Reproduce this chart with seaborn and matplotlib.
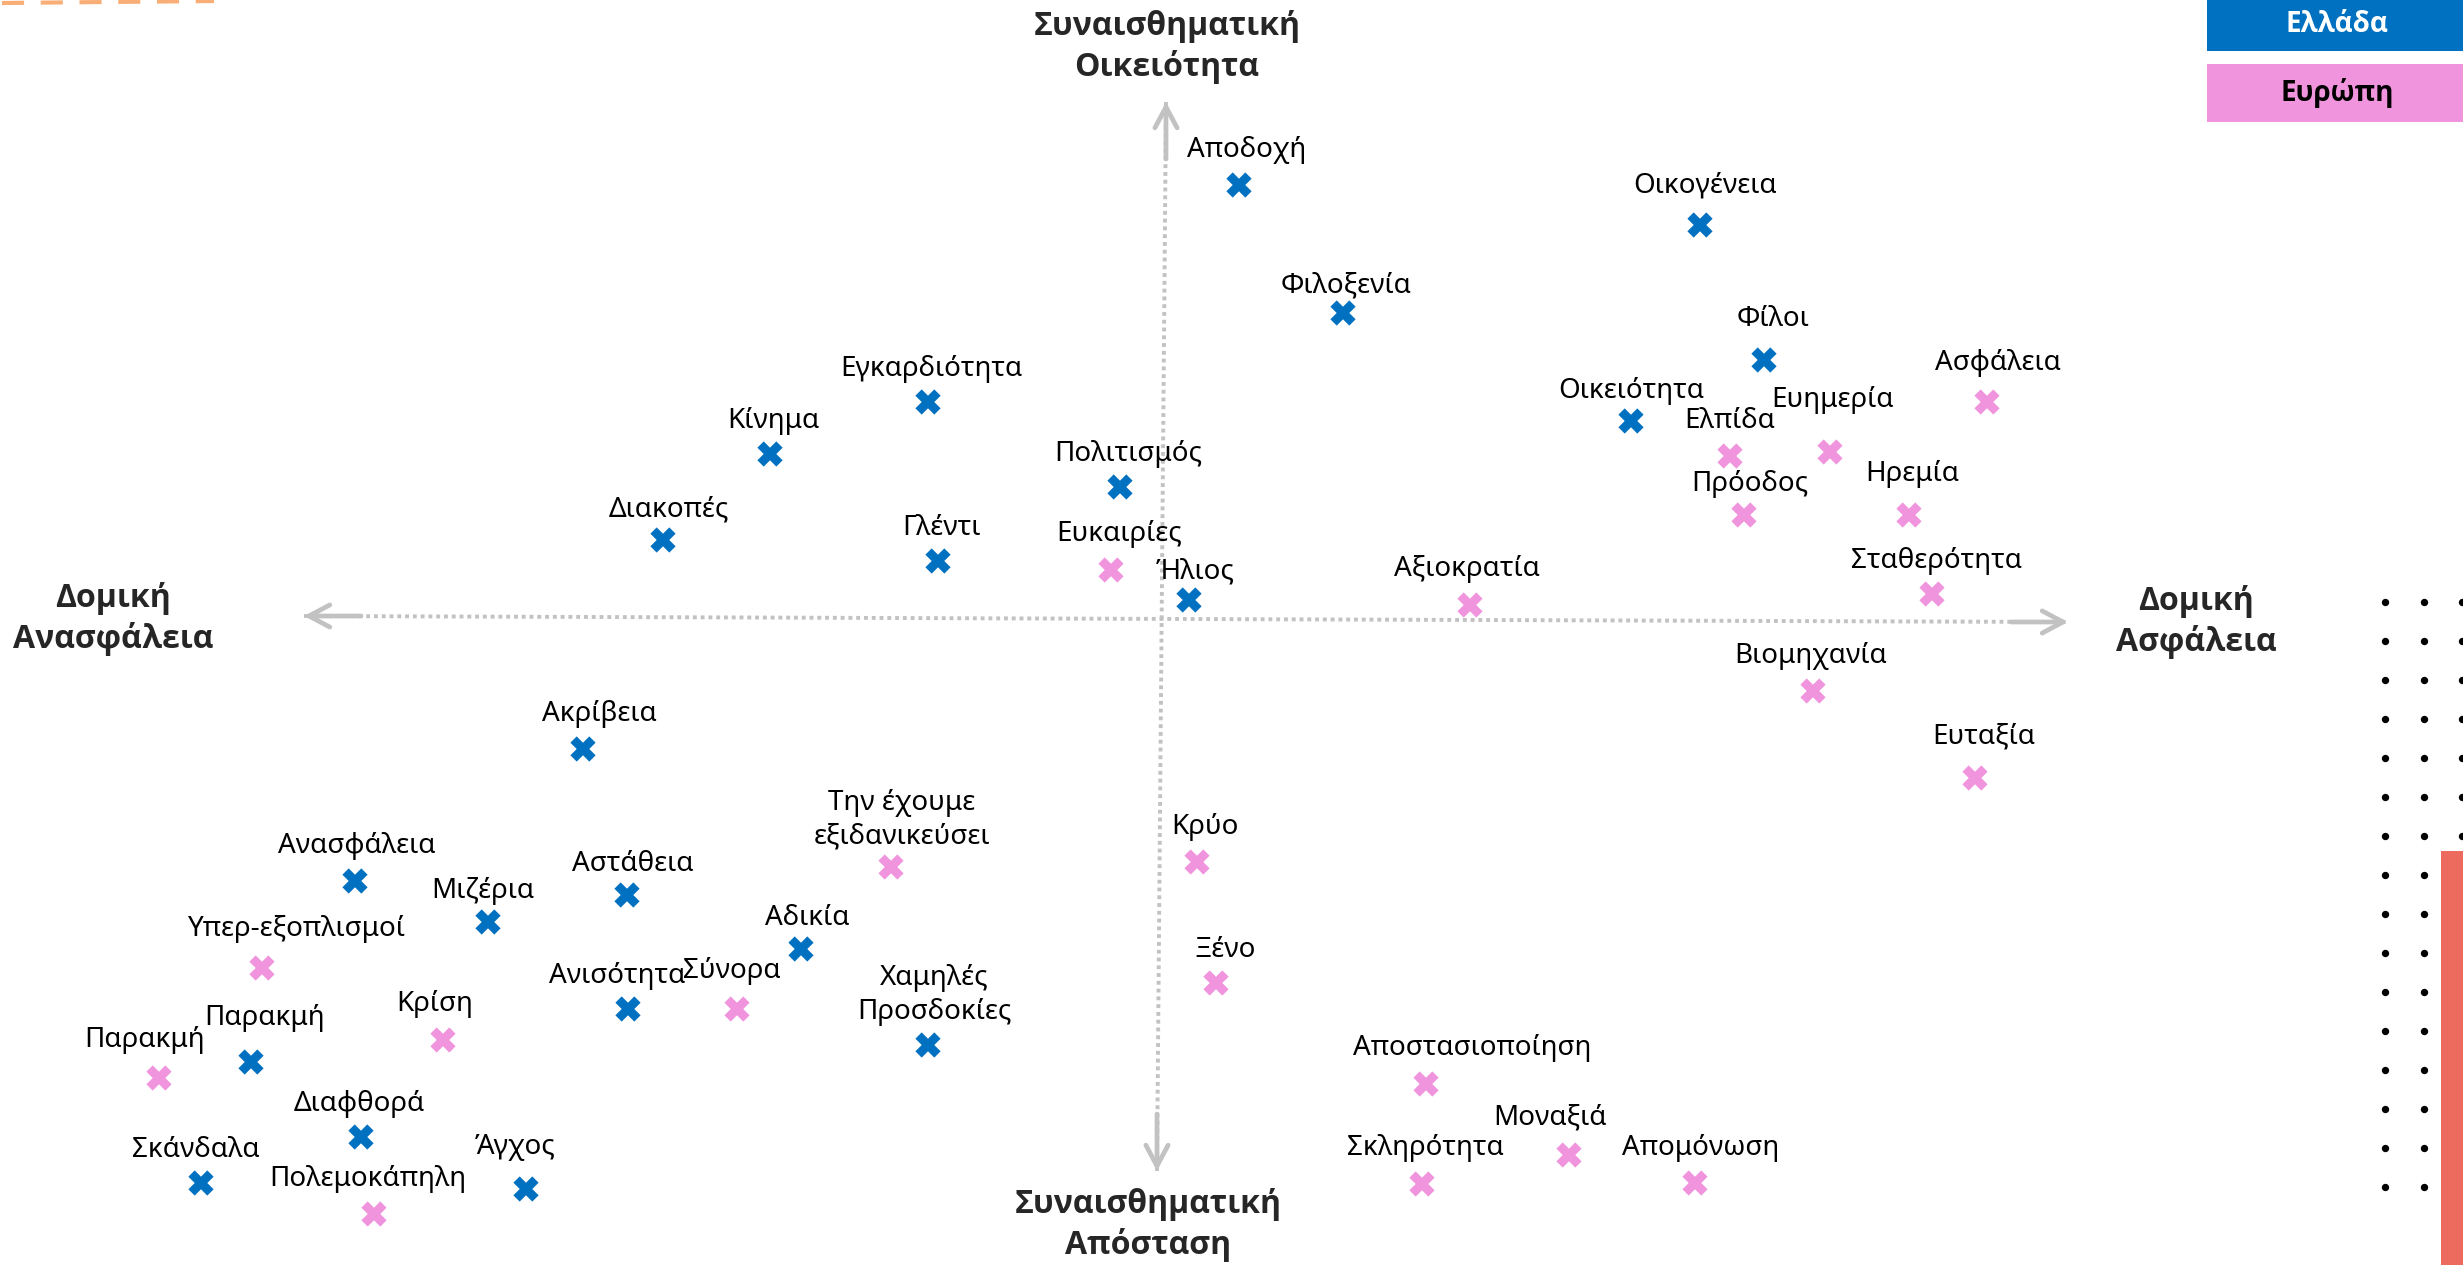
import matplotlib
matplotlib.use("Agg")
import matplotlib.pyplot as plt
import numpy as np
import pandas as pd
import seaborn as sns
from matplotlib.patches import Rectangle
from matplotlib import font_manager

# Word map: Greece vs Europe on two axes
# x: structural insecurity (-) / security (+), y: emotional distance (-) / familiarity (+)

greece_words = ['Αποδοχή', 'Οικογένεια', 'Φιλοξενία', 'Φίλοι', 'Εγκαρδιότητα', 'Οικειότητα',
                'Κίνημα', 'Πολιτισμός', 'Διακοπές', 'Γλέντι', 'Ήλιος', 'Ακρίβεια',
                'Ανασφάλεια', 'Αστάθεια', 'Μιζέρια', 'Αδικία', 'Ανισότητα',
                'Χαμηλές\nΠροσδοκίες', 'Παρακμή', 'Διαφθορά', 'Σκάνδαλα', 'Άγχος']
greece_x = [0.78, 5.39, 1.82, 6.03, -2.33, 4.70, -3.91, -0.41, -4.98, -2.23, 0.28, -5.78,
            -8.06, -5.34, -6.73, -3.60, -5.33, -2.33, -9.10, -8.00, -9.60, -6.35]
greece_y = [4.34, 3.94, 3.06, 2.59, 2.17, 1.98, 1.65, 1.32, 0.79, 0.58, 0.19, -1.30,
            -2.62, -2.76, -3.03, -3.30, -3.90, -4.26, -4.43, -5.18, -5.64, -5.70]

europe_words = ['Ασφάλεια', 'Ελπίδα', 'Ευημερία', 'Πρόοδος', 'Ηρεμία', 'Ευκαιρίες',
                'Σταθερότητα', 'Αξιοκρατία', 'Βιομηχανία', 'Ευταξία',
                'Την έχουμε\nεξιδανικεύσει', 'Κρύο', 'Υπερ-εξοπλισμοί', 'Ξένο', 'Σύνορα',
                'Κρίση', 'Παρακμή', 'Αποστασιοποίηση', 'Μοναξιά', 'Σκληρότητα',
                'Απομόνωση', 'Πολεμοκάπηλη']
europe_x = [8.26, 5.69, 6.69, 5.83, 7.48, -0.50, 7.71, 3.09, 6.52, 8.14,
            -2.70, 0.36, -8.99, 0.55, -4.24, -7.18, -10.02, 2.65, 4.08, 2.61, 5.34, -7.87]
europe_y = [2.17, 1.63, 1.67, 1.04, 1.04, 0.49, 0.25, 0.14, -0.72, -1.59,
            -2.48, -2.43, -3.49, -3.64, -3.90, -4.21, -4.59, -4.65, -5.36, -5.65, -5.64, -5.95]

# label offsets (pixels) relative to each marker
greece_lab = [(8, 35), (5, 39), (3, 27), (9, 41), (3, 33), (0, 30), (3, 33), (8, 33),
              (6, 30), (3, 33), (6, 28), (16, 35), (2, 35), (6, 31), (-5, 31), (6, 31),
              (-11, 33), (6, 50), (14, 44), (-2, 33), (-5, 33), (-11, 42)]
europe_lab = [(11, 39), (0, 35), (3, 52), (6, 31), (3, 41), (8, 36), (5, 33), (-3, 36),
              (-2, 35), (9, 41), (11, 47), (8, 35), (35, 39), (9, 33), (-5, 38), (-8, 36),
              (-14, 38), (46, 36), (-19, 38), (3, 36), (6, 35), (-6, 35)]

BLUE = '#0070C0'
PINK = '#F095DD'
GREY = '#C2C2C2'

df = pd.DataFrame({
    'word': greece_words + europe_words,
    'x': greece_x + europe_x,
    'y': greece_y + europe_y,
    'group': ['Ελλάδα'] * len(greece_words) + ['Ευρώπη'] * len(europe_words),
})
offsets = greece_lab + europe_lab

sns.set_theme(style='white')
plt.rcParams['font.family'] = ['Noto Sans', 'DejaVu Sans']

# pick a family that really has a bold face
bold_family = 'DejaVu Sans'
for fam in ['Noto Sans', 'Open Sans', 'Lato', 'Roboto']:
    path = font_manager.findfont(font_manager.FontProperties(family=fam, weight='bold'),
                                 fallback_to_default=False)
    if 'bold' in path.lower():
        bold_family = fam
        break
BOLD = dict(family=[bold_family, 'DejaVu Sans'], fontweight='bold')

fig = plt.figure(figsize=(24.63, 12.65), dpi=100)
ax = fig.add_axes([0, 0, 1, 1])
ax.set_xlim(-11.61, 13.02)
ax.set_ylim(-6.46, 6.19)
ax.axis('off')

# quadrant axes (dotted, slightly tilted as in the original)
ax.plot([-8.57, 9.07], [0.03, -0.03], color=GREY, lw=2.8, ls=(0, (1, 1)), zorder=1)
ax.plot([0.05, -0.04], [5.17, -5.52], color=GREY, lw=2.8, ls=(0, (1, 1)), zorder=1)
heads = [((-8.57, 0.03), (-8.0, 0.03)), ((9.07, -0.03), (8.5, -0.03)),
         ((0.05, 5.17), (0.05, 4.6)), ((-0.04, -5.52), (-0.04, -4.95))]
for tip, tail in heads:
    ax.annotate('', xy=tip, xytext=tail,
                arrowprops=dict(arrowstyle='->,head_length=0.75,head_width=0.4',
                                lw=3.4, color=GREY, shrinkA=0, shrinkB=0,
                                mutation_scale=20),
                zorder=1)

sns.scatterplot(data=df, x='x', y='y', hue='group', palette={'Ελλάδα': BLUE, 'Ευρώπη': PINK},
                marker='X', s=330, linewidth=0, legend=False, ax=ax, zorder=3)

for (w, x, y), (dx, dy) in zip(df[['word', 'x', 'y']].values, offsets):
    ax.annotate(w, (x, y), xytext=(dx, dy), textcoords='offset pixels',
                ha='center', va='center', fontsize=20, color='black',
                linespacing=1.25, zorder=4)

# axis titles
ax.text(0.06, 5.72, 'Συναισθηματική\nΟικειότητα', ha='center', va='center',
        fontsize=23, linespacing=1.25, **BOLD)
ax.text(-0.13, -6.06, 'Συναισθηματική\nΑπόσταση', ha='center', va='center',
        fontsize=23, linespacing=1.25, **BOLD)
ax.text(-10.48, 0.0, 'Δομική\nΑνασφάλεια', ha='center', va='center',
        fontsize=23, linespacing=1.25, **BOLD)
ax.text(10.35, -0.03, 'Δομική\nΑσφάλεια', ha='center', va='center',
        fontsize=23, linespacing=1.25, **BOLD)

# decorations in pixel space
deco = fig.add_axes([0, 0, 1, 1], facecolor='none')
deco.set_xlim(0, 2463)
deco.set_ylim(1265, 0)
deco.axis('off')

# legend boxes
deco.add_patch(Rectangle((2207, 0), 256, 51, color=BLUE, lw=0))
deco.add_patch(Rectangle((2207, 64), 256, 58, color=PINK, lw=0))
deco.text(2337, 24, 'Ελλάδα', ha='center', va='center', fontsize=20,
          color='white', **BOLD)
deco.text(2337, 93, 'Ευρώπη', ha='center', va='center', fontsize=20,
          color='black', **BOLD)

# orange dashes top-left
deco.plot([2, 214], [3, 1], color='#F9AE78', lw=3, ls=(0, (5.3, 4)), solid_capstyle='butt')

# dot grid and red bar on the right
gx, gy = np.meshgrid([2385, 2424], 602 + 39 * np.arange(16))
deco.scatter(gx.ravel(), gy.ravel(), s=28, color='black', lw=0)
deco.scatter(np.full(7, 2462), 602 + 39 * np.arange(7), s=28, color='black', lw=0)
deco.add_patch(Rectangle((2441, 851), 22, 414, color='#EC6B5E', lw=0))

fig.savefig('out.png', dpi=100)
